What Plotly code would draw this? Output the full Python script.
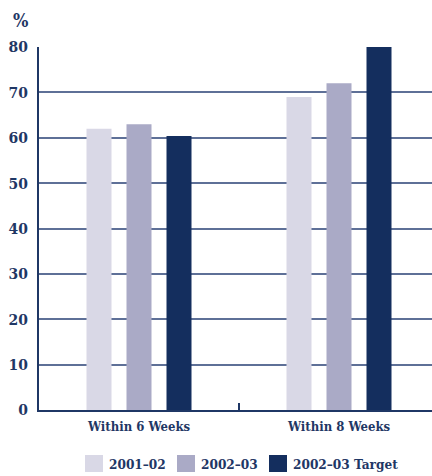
import plotly.graph_objects as go

categories = ["Within 6 Weeks", "Within 8 Weeks"]
series_names = ["2001\u201302", "2002\u201303", "2002\u201303 Target"]
values_2001_02 = [62, 69]
values_2002_03 = [63, 72]
values_target = [60.4, 80]
colors = ["#D9D8E6", "#AAAAC6", "#142E5E"]
y_ticks = [0, 10, 20, 30, 40, 50, 60, 70, 80]

NAVY = "#1F3765"
FONT = "DejaVu Serif Condensed"
W, H = 432, 476
L, R, T, B = 39, 0, 47, 66

fig = go.Figure()
for name, vals, col in zip(series_names, [values_2001_02, values_2002_03, values_target], colors):
    fig.add_trace(go.Bar(x=categories, y=vals, name=name, marker_color=col,
                         marker_line_width=0, showlegend=False))

fig.update_layout(
    width=W, height=H,
    margin=dict(l=L, r=R, t=T, b=B, autoexpand=False),
    paper_bgcolor="white", plot_bgcolor="white",
    barmode="group", bargap=0.4, bargroupgap=0.375,
    font=dict(family=FONT, color=NAVY),
    showlegend=False,
    xaxis=dict(range=[-0.5, 1.465], showgrid=False, showline=True, linecolor=NAVY,
               linewidth=2, ticks="inside", tickson="boundaries", ticklen=7,
               tickcolor=NAVY, tickwidth=1.5, ticklabelstandoff=3,
               tickfont=dict(size=13, family=FONT, color=NAVY, weight="bold")),
    yaxis=dict(range=[0, 80], tickvals=y_ticks, showgrid=True, gridcolor="#5E7097",
               gridwidth=1.5, showline=True, linecolor=NAVY, linewidth=2,
               zeroline=False, ticks="", ticklabelstandoff=6,
               tickfont=dict(size=15.5, family=FONT, color=NAVY, weight="bold")),
)

def px_x(px):
    return (px - L) / (W - L - R)

def px_y(py):
    return (H - B - py) / (H - T - B)

# "%" unit label above the y axis
fig.add_annotation(text="%", xref="paper", yref="paper",
                   x=px_x(20), xanchor="center", y=px_y(21), yanchor="middle",
                   showarrow=False,
                   font=dict(size=18, family=FONT, color=NAVY, weight="bold"))

# legend row: swatch squares with labels
legend_x = [85, 177, 269]
for x0, name, col in zip(legend_x, series_names, colors):
    fig.add_shape(type="rect", xref="paper", yref="paper",
                  x0=px_x(x0), x1=px_x(x0 + 18), y0=px_y(472), y1=px_y(455),
                  fillcolor=col, line_width=0)
    fig.add_annotation(text=name, xref="paper", yref="paper",
                       x=px_x(x0 + 22), xanchor="left", y=px_y(464), yanchor="middle",
                       showarrow=False,
                       font=dict(size=13.5, family=FONT, color=NAVY, weight="bold"))

fig.write_html("out.html")
